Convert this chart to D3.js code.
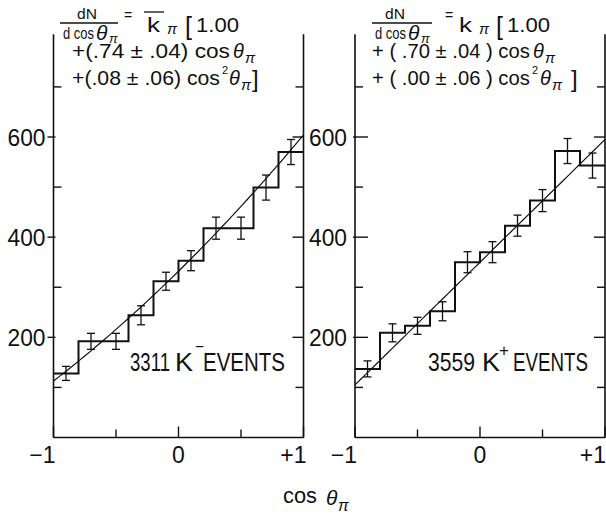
<!DOCTYPE html>
<html>
<head>
<meta charset="utf-8">
<script src="https://cdn.jsdelivr.net/npm/d3@7"></script>
<style>
  html, body { margin: 0; padding: 0; background: #fff; }
  svg text { font-family: "Liberation Sans", Arial, sans-serif; fill: #111; }
</style>
</head>
<body>
<div id="chart"></div>
<script>
// ---------------------------------------------------------------------
// Data (counts per 0.2 bin of cos theta_pi)
// ---------------------------------------------------------------------
const binEdges = [-1.0, -0.8, -0.6, -0.4, -0.2, 0.0, 0.2, 0.4, 0.6, 0.8, 1.0];

const kMinusCounts = [128, 192, 192, 244, 312, 353, 418, 418, 499, 570];
const kMinusErrors = [14, 16, 16, 19, 18, 20, 22, 22, 25, 25];
const kMinusFit = [332, 0.74, 0.08];   // norm, linear, quadratic

const kPlusCounts = [137, 209, 223, 252, 350, 370, 423, 473, 572, 543];
const kPlusErrors = [16, 18, 17, 19, 21, 21, 21, 22, 25, 25];
const kPlusFit = [350, 0.70, 0.00];

const yMajorTicks = [200, 400, 600];
const yMinorTicks = [100, 300, 500, 700];
const xMajorTicks = [-1, 0, 1];
const xMinorTicks = [-0.5, 0.5];
const xTickLabels = ['\u22121', '0', '+1'];

const width = 606, height = 514;
const yTop = 805;

const svg = d3.select('#chart').append('svg')
    .attr('width', width)
    .attr('height', height);

// shared vertical scale
const y = d3.scaleLinear().domain([0, 600]).range([437.5, 137]);

// ---------------------------------------------------------------------
// helpers
// ---------------------------------------------------------------------
// text; opts.len squeezes the glyphs horizontally to that width
function txt(g, x, yy, s, size, opts = {}) {
    const t = g.append('text')
        .style('font-size', size + 'px')
        .text(s);
    if (opts.anchor) t.attr('text-anchor', opts.anchor);
    if (opts.italic) t.style('font-style', 'italic');
    if (opts.len) {
        const natural = t.node().getComputedTextLength() || opts.len;
        t.attr('transform', `translate(${x},${yy}) scale(${opts.len / natural},1)`);
    } else {
        t.attr('x', x).attr('y', yy);
    }
    return t;
}

function line(g, x1, y1, x2, y2, w) {
    g.append('line')
        .attr('x1', x1).attr('y1', y1)
        .attr('x2', x2).attr('y2', y2)
        .attr('stroke', '#111')
        .attr('stroke-width', w);
}

// ---------------------------------------------------------------------
// one panel
// ---------------------------------------------------------------------
function drawPanel(p) {
    const g = svg.append('g');
    const x = d3.scaleLinear().domain([-1, 1]).range(p.xRange);
    const [x0, x1] = p.xRange;

    // frame: two vertical axes + bottom
    line(g, x0, y(0), x0, y(yTop), 1.6);
    line(g, x1, y(0), x1, y(yTop), 1.6);
    line(g, x0, y(0), x1, y(0), 1.6);

    // left axis ticks
    yMajorTicks.forEach(v => line(g, x0 - p.leftMajor[0], y(v), x0 + p.leftMajor[1], y(v), 1.4));
    yMinorTicks.forEach(v => line(g, x0, y(v), x0 + 8, y(v), 1.4));
    // right axis ticks (inward)
    yMajorTicks.forEach(v => line(g, x1 - 11, y(v), x1, y(v), 1.4));
    yMinorTicks.forEach(v => line(g, x1 - 8, y(v), x1, y(v), 1.4));
    // bottom ticks (inward)
    xMajorTicks.forEach(v => line(g, x(v), y(0), x(v), y(0) - 11, 1.4));
    xMinorTicks.forEach(v => line(g, x(v), y(0), x(v), y(0) - 8, 1.4));

    // y tick labels
    yMajorTicks.forEach(v => txt(g, x0 - 8, y(v) + 9, String(v), 23, { anchor: 'end', len: 38 }));

    // x tick labels
    txt(g, x(-1) + 2, 463, xTickLabels[0], 23, { anchor: 'end' });
    txt(g, x(0), 463, xTickLabels[1], 23, { anchor: 'middle' });
    txt(g, Math.min(x(1) + 3, width), 463, xTickLabels[2], 23, { anchor: 'end' });

    // histogram
    const pts = [];
    p.counts.forEach((c, i) => {
        pts.push([binEdges[i], c]);
        pts.push([binEdges[i + 1], c]);
    });
    g.append('path')
        .datum(pts)
        .attr('fill', 'none')
        .attr('stroke', '#111')
        .attr('stroke-width', 2)
        .attr('d', d3.line().x(d => x(d[0])).y(d => y(d[1])));

    // error bars at bin centres
    p.counts.forEach((c, i) => {
        const cx = x((binEdges[i] + binEdges[i + 1]) / 2);
        const e = p.errors[i];
        line(g, cx, y(c - e), cx, y(c + e), 1.3);
        line(g, cx - 4, y(c - e), cx + 4, y(c - e), 1.3);
        line(g, cx - 4, y(c + e), cx + 4, y(c + e), 1.3);
    });

    // fit curve
    const [norm, a1, a2] = p.fit;
    const f = c => norm * (1 + a1 * c + a2 * c * c);
    const cs = d3.range(0, 41).map(i => -1 + i * 0.05);
    g.append('path')
        .datum(cs)
        .attr('fill', 'none')
        .attr('stroke', '#111')
        .attr('stroke-width', 1.2)
        .attr('d', d3.line().x(c => x(c)).y(c => y(f(c))));

    return g;
}

const left = drawPanel({
    xRange: [53.5, 303.5],
    counts: kMinusCounts, errors: kMinusErrors, fit: kMinusFit,
    leftMajor: [6, 2]
});
const right = drawPanel({
    xRange: [355, 605],
    counts: kPlusCounts, errors: kPlusErrors, fit: kPlusFit,
    leftMajor: [2, 13]
});

// ---------------------------------------------------------------------
// formulas
// ---------------------------------------------------------------------
function formula(g, o) {
    // dN / d cos theta_pi
    txt(g, o.dN, 19, 'dN', 14, { anchor: 'middle', len: 20 });
    line(g, o.bar[0], 23, o.bar[1], 23, 1.3);
    txt(g, o.dcos, 38.5, 'd cos', 16, { len: 31 });
    txt(g, o.dcos + 33, 40, '\u03b8', 21, { italic: true });
    txt(g, o.dcos + 46, 43, '\u03c0', 13, { italic: true });
    // = k pi [1.00
    txt(g, o.eq, 20, '=', 14);
    txt(g, o.k, 32, 'k', 21, { len: 13 });
    if (o.kbar) line(g, o.k - 3, 12, o.k + 17, 12, 1.3);
    txt(g, o.k + 20, 34, '\u03c0', 15, { italic: true });
    txt(g, o.br, 35, '[', 25);
    txt(g, o.br + 11, 32, '1.00', 19.5, { len: 43 });

    // + (a1) cos theta_pi
    txt(g, o.l2, 58, o.t2, 21, { len: o.len2 });
    txt(g, o.l2 + o.len2 + 3, 58, '\u03b8', 20, { italic: true });
    txt(g, o.l2 + o.len2 + 15, 63, '\u03c0', 15, { italic: true });

    // + (a2) cos^2 theta_pi ]
    txt(g, o.l2, 85, o.t3, 21, { len: o.len3 });
    txt(g, o.l2 + o.len3 + 2, 74, '2', 11);
    txt(g, o.l2 + o.len3 + o.th3, 85, '\u03b8', 20, { italic: true });
    txt(g, o.l2 + o.len3 + o.th3 + 12, 90, '\u03c0', 15, { italic: true });
    txt(g, o.close, 87, ']', 24);
}

formula(left, {
    dN: 87, bar: [60, 118], dcos: 63, eq: 124, k: 147, kbar: true, br: 185,
    l2: 72, t2: '+(.74 \u00b1 .04) cos', len2: 158,
    t3: '+(.08 \u00b1 .06) cos', len3: 148, th3: 9, close: 252
});
formula(right, {
    dN: 395, bar: [372, 432], dcos: 375, eq: 445, k: 459, kbar: false, br: 496,
    l2: 372, t2: '+ ( .70 \u00b1 .04 ) cos', len2: 158,
    t3: '+ ( .00 \u00b1 .06 ) cos', len3: 158, th3: 10, close: 571
});

// ---------------------------------------------------------------------
// event labels
// ---------------------------------------------------------------------
txt(left, 130, 371, '3311', 25, { len: 40 });
txt(left, 175, 371, 'K', 25, { len: 18 });
txt(left, 195, 352, '\u2212', 16, { len: 9 });
txt(left, 203, 371, 'EVENTS', 25, { len: 82 });

txt(right, 428, 371, '3559', 25, { len: 47 });
txt(right, 482, 371, 'K', 25, { len: 18 });
txt(right, 499, 356, '+', 17, { len: 10 });
txt(right, 513, 371, 'EVENTS', 25, { len: 75 });

// ---------------------------------------------------------------------
// x axis title
// ---------------------------------------------------------------------
txt(svg, 283, 503, 'cos', 22, { len: 34 });
txt(svg, 326, 505, '\u03b8', 21, { italic: true });
txt(svg, 338, 511, '\u03c0', 16, { italic: true });
</script>
</body>
</html>
